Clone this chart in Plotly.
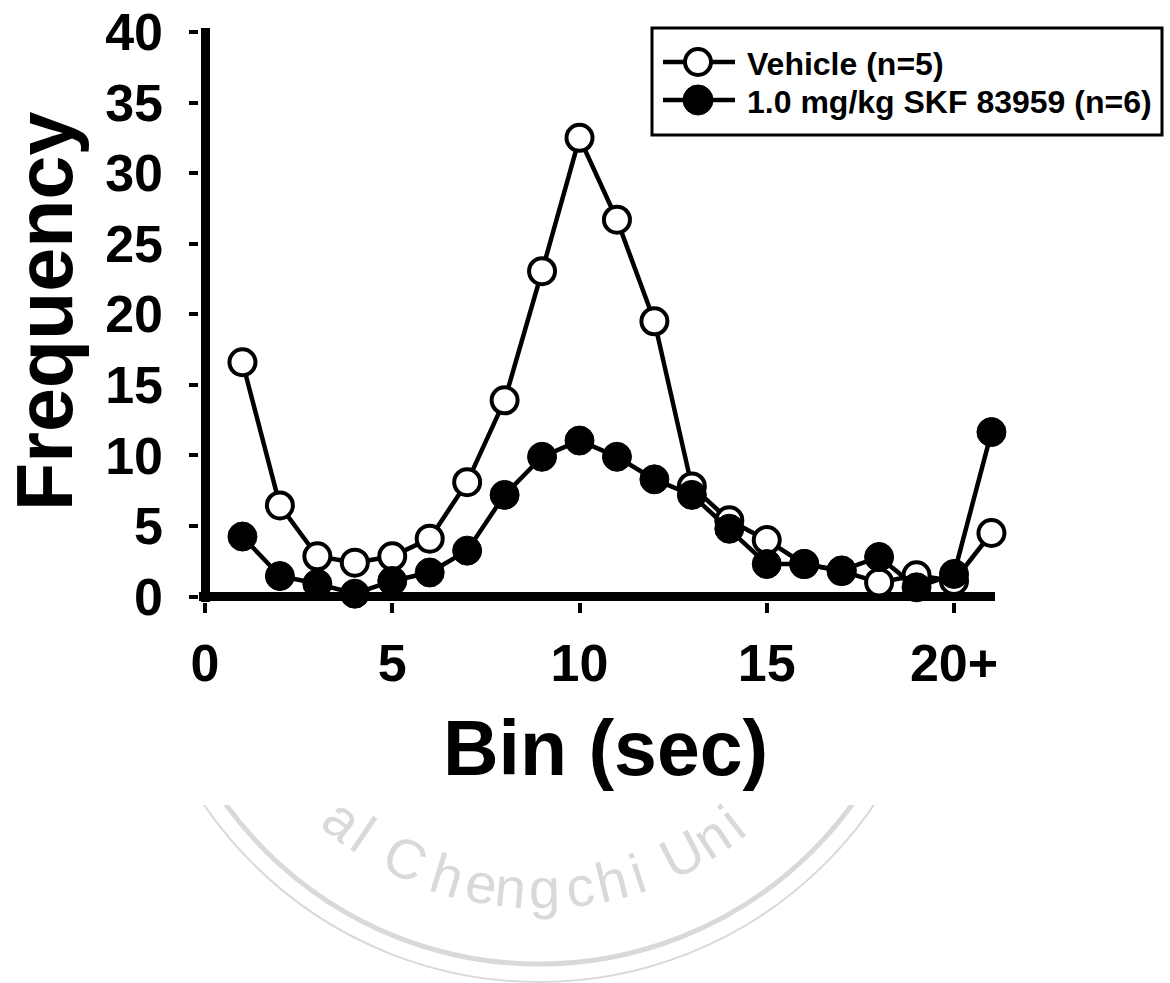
import math
import plotly.graph_objects as go

# ---- data -------------------------------------------------------------
bins = list(range(1, 22))
vehicle = [16.6, 6.45, 2.85, 2.4, 2.85, 4.1, 8.1, 13.9, 23.05, 32.5, 26.7,
           19.5, 7.8, 5.4, 4.0, 2.3, 1.8, 1.0, 1.5, 1.1, 4.5]
skf = [4.25, 1.45, 0.9, 0.2, 1.1, 1.7, 3.25, 7.2, 9.9, 11.05, 9.9,
       8.3, 7.2, 4.8, 2.3, 2.3, 1.85, 2.8, 0.65, 1.6, 11.65]

series_names = ["Vehicle (n=5)", "1.0 mg/kg SKF 83959 (n=6)"]
x_tick_vals = [0, 5, 10, 15, 20]
x_tick_text = ["0", "5", "10", "15", "20+"]
y_tick_vals = [0, 5, 10, 15, 20, 25, 30, 35, 40]

# watermark seal text (visible part) and its angular positions (deg)
seal_letters = ["a", "l", "C", "h", "e", "n", "g", "c", "h", "i", "U", "n", "i"]
seal_angles = [-38.8, -34.3, -25.4, -17.1, -10.6, -5.3, 1.0, 7.6, 13.5, 18.4,
               27.2, 33.6, 38.3]

# ---- page geometry (pixels) ---------------------------------------------
W, H = 1170, 983
FONT = "Liberation Sans, Arial, sans-serif"


def px(x):
    return x / W


def py(y):
    return 1 - y / H


X0_PX, X_SCALE = 205.0, 37.45      # pixel of x=0, pixels per bin
Y0_PX, Y_SCALE = 596.5, 14.1125    # pixel of y=0, pixels per unit
x_range = [-0.15, 21.09]
y_range = [-0.4, 40.25]
x_dom = [px(X0_PX + x_range[0] * X_SCALE), px(X0_PX + x_range[1] * X_SCALE)]
y_dom = [py(Y0_PX - y_range[0] * Y_SCALE), py(Y0_PX - y_range[1] * Y_SCALE)]

fig = go.Figure()

fig.add_trace(go.Scatter(
    x=bins, y=vehicle, mode="lines+markers", name=series_names[0],
    line=dict(color="black", width=4.5),
    marker=dict(symbol="circle", size=26, color="white",
                line=dict(color="black", width=4)),
    cliponaxis=False, showlegend=False,
))
fig.add_trace(go.Scatter(
    x=bins, y=skf, mode="lines+markers", name=series_names[1],
    line=dict(color="black", width=4.5),
    marker=dict(symbol="circle", size=29, color="black",
                line=dict(color="black", width=1)),
    cliponaxis=False, showlegend=False,
))

tickfont = dict(family=FONT, size=52, color="black", weight="bold")

fig.update_layout(
    width=W, height=H,
    margin=dict(l=0, r=0, t=0, b=0, autoexpand=False),
    paper_bgcolor="white",
    plot_bgcolor="rgba(0,0,0,0)",
    showlegend=False,
    xaxis=dict(
        domain=x_dom, range=x_range, showgrid=False, showline=False,
        automargin=False,
        zeroline=True, zerolinecolor="black", zerolinewidth=9,
        ticks="outside", ticklen=10, tickwidth=4, tickcolor="black",
        tickmode="array", tickvals=x_tick_vals, ticktext=x_tick_text,
        tickfont=tickfont, ticklabelstandoff=5,
    ),
    yaxis=dict(
        domain=y_dom, range=y_range, showgrid=False, showline=False,
        automargin=False,
        zeroline=True, zerolinecolor="black", zerolinewidth=9,
        ticks="outside", ticklen=9, tickwidth=4, tickcolor="black",
        tickmode="array", tickvals=y_tick_vals,
        tickfont=tickfont, ticklabelstandoff=16,
    ),
)

shapes = []
annotations = []

# ---- axis titles ---------------------------------------------------------
annotations.append(dict(
    text="Frequency", x=px(44.6), y=py(311.5), xref="paper", yref="paper",
    xanchor="center", yanchor="middle", textangle=-90, showarrow=False,
    font=dict(family=FONT, size=79, color="black", weight="bold"),
))
annotations.append(dict(
    text="Bin (sec)", x=px(605), y=py(748), xref="paper", yref="paper",
    xanchor="center", yanchor="middle", showarrow=False,
    font=dict(family=FONT, size=77, color="black", weight="bold"),
))

# ---- legend box ------------------------------------------------------------
shapes.append(dict(type="rect", xref="paper", yref="paper",
                   x0=px(652), x1=px(1162), y0=py(135), y1=py(28),
                   line=dict(color="black", width=3), fillcolor="white",
                   layer="above"))
legend_rows = [62, 100]
for row_y, name, filled in zip(legend_rows, series_names, [False, True]):
    shapes.append(dict(type="line", xref="paper", yref="paper",
                       x0=px(663), x1=px(735), y0=py(row_y), y1=py(row_y),
                       line=dict(color="black", width=4.5), layer="above"))
    r = 15 if filled else 13
    shapes.append(dict(type="circle", xref="paper", yref="paper",
                       x0=px(698 - r), x1=px(698 + r),
                       y0=py(row_y + r), y1=py(row_y - r),
                       fillcolor="black" if filled else "white",
                       line=dict(color="black", width=1 if filled else 4),
                       layer="above"))
    annotations.append(dict(
        text=name, x=px(745), y=py(row_y + 2), xref="paper", yref="paper",
        xanchor="left", yanchor="middle", showarrow=False,
        font=dict(family=FONT, size=32, color="black", weight="bold"),
    ))

# ---- university seal watermark -----------------------------------------------
SEAL = "#d9d9d9"
CX, CY = 539, 577
for radius, width in [(387, 5), (405, 2)]:
    shapes.append(dict(type="circle", xref="paper", yref="paper",
                       x0=px(CX - radius), x1=px(CX + radius),
                       y0=py(CY + radius), y1=py(CY - radius),
                       line=dict(color=SEAL, width=width), layer="below"))
shapes.append(dict(type="rect", xref="paper", yref="paper",
                   x0=0, x1=1, y0=py(805), y1=1,
                   fillcolor="white", line=dict(width=0), layer="below"))
for ch, ang in zip(seal_letters, seal_angles):
    a = math.radians(ang)
    annotations.append(dict(
        text=ch, x=px(CX + 312 * math.sin(a)), y=py(CY + 312 * math.cos(a)),
        xref="paper", yref="paper", xanchor="center", yanchor="middle",
        textangle=-ang, showarrow=False,
        font=dict(family=FONT, size=56, color=SEAL),
    ))

fig.update_layout(shapes=shapes, annotations=annotations)

fig.write_html("out.html")
